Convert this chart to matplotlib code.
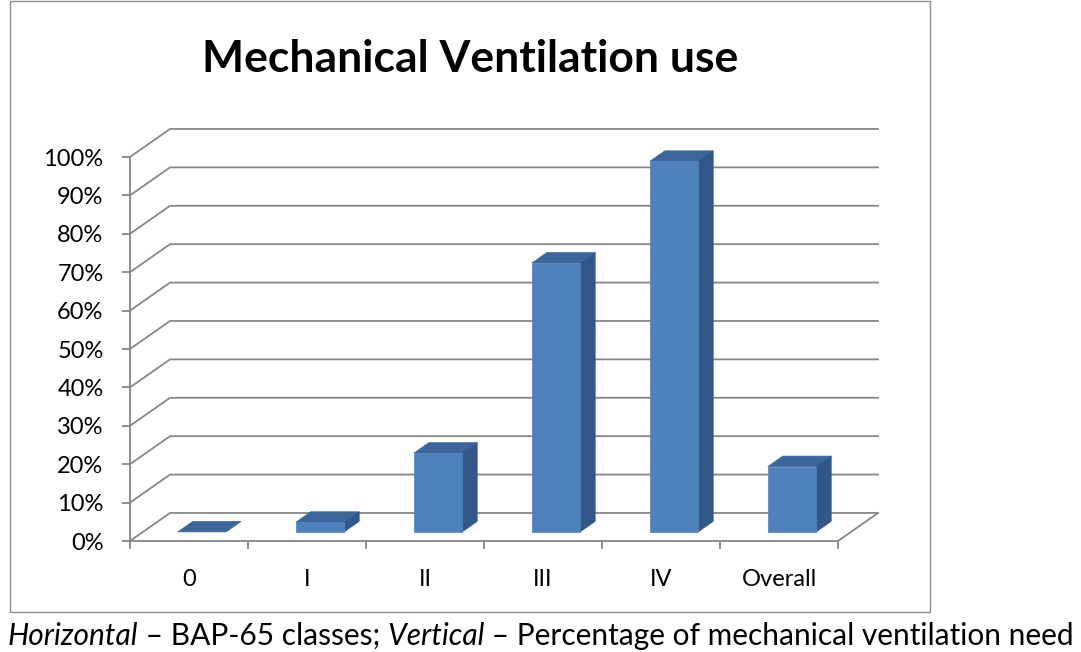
import matplotlib
matplotlib.use("Agg")
import matplotlib.pyplot as plt
from matplotlib.patches import Polygon, Rectangle
import numpy as np

# data
categories = ["0", "I", "II", "III", "IV", "Overall"]
ventilation_pct = [0, 2.5, 20.5, 70, 96.5, 17]
y_ticks = [0, 10, 20, 30, 40, 50, 60, 70, 80, 90, 100]

FONT = "Lato"
GRID = "#868686"
FRONT = "#4F81BD"
SIDE = "#34578A"
TOP = "#3D679C"

# oblique "3d" wall offset (in data units: categories, percent)
DX, DY = 0.339, 7.3
BAR_W = 0.41
D0, D1 = 0.325, 0.70   # bar depth span as fraction of floor depth

fig = plt.figure(figsize=(10.81, 6.52), dpi=100)
W, H = 1081, 652

# chart frame
fig.patches.append(Rectangle((10 / W, (H - 612) / H), 920 / W, 611 / H,
                             transform=fig.transFigure, fill=False,
                             edgecolor="#8c8c8c", linewidth=1.0))

ax = fig.add_axes([130 / W, (H - 541) / H, 750 / W, 414 / H])
n = len(categories)
ax.set_xlim(0, 750 / 118)
ax.set_ylim(0, 414 / 3.84)
ax.patch.set_visible(False)
for s in ["top", "right"]:
    ax.spines[s].set_visible(False)
for s in ["left", "bottom"]:
    ax.spines[s].set_color(GRID)
    ax.spines[s].set_linewidth(1.3)
ax.spines["left"].set_bounds(0, 100)
ax.spines["bottom"].set_bounds(0, n)

ax.set_yticks(y_ticks)
ax.set_yticklabels(["%d%%" % v for v in y_ticks])
ax.set_xticks(np.arange(n + 1))
ax.set_xticklabels([])
ax.set_xticks(np.arange(n) + 0.5, minor=True)
ax.set_xticklabels(categories, minor=True)
ax.tick_params(axis="y", length=6, width=1.3, color=GRID, pad=13,
               labelsize=17, labelcolor="black")
ax.tick_params(axis="x", which="major", length=6, width=1.3, color=GRID,
               direction="out")
ax.tick_params(axis="x", which="minor", length=0, pad=20, labelsize=17)
for lbl in ax.get_yticklabels() + ax.get_xticklabels(minor=True):
    lbl.set_fontfamily(FONT)

# walls: diagonal from front axis, then back gridline
for v in y_ticks:
    ax.plot([0, DX, n + DX], [v, v + DY, v + DY], color=GRID, lw=1.3,
            zorder=1, clip_on=False, solid_joinstyle="miter")
# right edge of the floor
ax.plot([n, n + DX], [0, DY], color=GRID, lw=1.3, zorder=1, clip_on=False)

# bars
for i, v in enumerate(ventilation_pct):
    x0 = i + 0.5 - BAR_W / 2 + D0 * DX
    x1 = x0 + BAR_W
    y0 = D0 * DY
    ddx, ddy = (D1 - D0) * DX, (D1 - D0) * DY
    top = Polygon([(x0, y0 + v), (x1, y0 + v), (x1 + ddx, y0 + v + ddy),
                   (x0 + ddx, y0 + v + ddy)], closed=True,
                  facecolor=TOP, edgecolor=TOP, lw=0.5, zorder=3)
    ax.add_patch(top)
    if v > 0:
        side = Polygon([(x1, y0), (x1 + ddx, y0 + ddy),
                        (x1 + ddx, y0 + v + ddy), (x1, y0 + v)], closed=True,
                       facecolor=SIDE, edgecolor=SIDE, lw=0.5, zorder=3)
        front = Rectangle((x0, y0), BAR_W, v, facecolor=FRONT,
                          edgecolor=FRONT, lw=0.5, zorder=4)
        ax.add_patch(side)
        ax.add_patch(front)

fig.text(470 / W, 1 - 59 / H, "Mechanical Ventilation use", ha="center",
         va="center", fontsize=32, fontweight="bold", fontfamily=FONT)

# caption with italic words
pieces = [("Horizontal", "italic"), (" \u2013 BAP-65 classes;", "normal"),
          (" Vertical", "italic"),
          (" \u2013 Percentage of mechanical ventilation need", "normal")]
renderer = fig.canvas.get_renderer()
x = 8
for txt, style in pieces:
    t = fig.text(x / W, 1 - 636 / H, txt, ha="left", va="center",
                 fontsize=21.5, fontstyle=style, fontfamily=FONT)
    bb = t.get_window_extent(renderer=renderer)
    x += bb.width

fig.savefig("out.png", dpi=100)
